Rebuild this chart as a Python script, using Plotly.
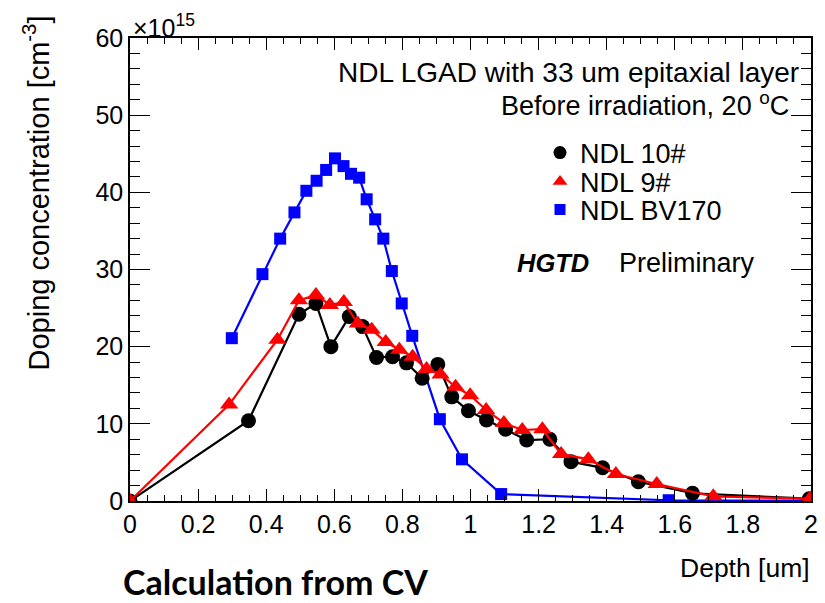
import plotly.graph_objects as go

# ---- data ----
ndl10_x = [0.0, 0.348, 0.496, 0.546, 0.590, 0.644, 0.683, 0.724, 0.771, 0.812, 0.858,
           0.904, 0.945, 0.994, 1.047, 1.103, 1.165, 1.233, 1.295, 1.388, 1.493, 1.652, 1.995]
ndl10_y = [0.0, 10.4, 24.2, 25.6, 20.0, 23.9, 22.6, 18.6, 18.7, 17.9, 15.9,
           17.7, 13.5, 11.7, 10.5, 9.3, 7.9, 8.0, 5.1, 4.3, 2.5, 1.0, 0.3]

ndl9_x = [0.0, 0.291, 0.433, 0.496, 0.546, 0.587, 0.628, 0.669, 0.710, 0.751, 0.791,
          0.830, 0.871, 0.912, 0.956, 0.999, 1.046, 1.098, 1.152, 1.211, 1.266,
          1.346, 1.427, 1.547, 1.713, 1.997]
ndl9_y = [0.0, 12.5, 20.9, 26.0, 26.7, 25.4, 25.8, 23.0, 22.2, 20.6, 19.6,
          18.7, 17.1, 16.4, 14.8, 13.7, 11.8, 10.1, 9.2, 9.3, 6.1,
          5.4, 3.5, 2.2, 0.6, 0.3]

bv170_x = [0.299, 0.389, 0.441, 0.483, 0.518, 0.548, 0.576, 0.602, 0.627, 0.649, 0.673,
           0.695, 0.720, 0.744, 0.769, 0.798, 0.829, 0.910, 0.975, 1.090, 1.582, 1.997]
bv170_y = [21.1, 29.4, 34.0, 37.4, 40.2, 41.5, 42.9, 44.4, 43.4, 42.4, 41.9,
           39.1, 36.5, 34.0, 29.8, 25.6, 21.4, 10.6, 5.4, 0.9, 0.1, 0.05]

series_names = ["NDL 10#", "NDL 9#", "NDL BV170"]
x_ticks = [0, 0.2, 0.4, 0.6, 0.8, 1, 1.2, 1.4, 1.6, 1.8, 2]
y_ticks = [0, 10, 20, 30, 40, 50, 60]

FONT = "Liberation Sans, Arial, Helvetica, sans-serif"

fig = go.Figure()

# data traces (lines + markers), no legend entries
fig.add_trace(go.Scatter(x=bv170_x, y=bv170_y, mode="lines+markers", showlegend=False,
                         line=dict(color="#0000ff", width=2.2),
                         marker=dict(symbol="square", size=12, color="#0000ff")))
fig.add_trace(go.Scatter(x=ndl10_x, y=ndl10_y, mode="lines+markers", showlegend=False,
                         line=dict(color="#000000", width=2.2),
                         marker=dict(symbol="circle", size=15, color="#000000")))
fig.add_trace(go.Scatter(x=ndl9_x, y=ndl9_y, mode="lines+markers", showlegend=False,
                         line=dict(color="#ff0000", width=2.2),
                         marker=dict(symbol="triangle-up", size=16, color="#ff0000")))

# legend entries (markers only), each in its own legend for exact placement
fig.add_trace(go.Scatter(x=[None], y=[None], mode="markers", name=series_names[0],
                         legend="legend",
                         marker=dict(symbol="circle", size=13, color="#000000")))
fig.add_trace(go.Scatter(x=[None], y=[None], mode="markers", name=series_names[1],
                         legend="legend2",
                         marker=dict(symbol="triangle-up", size=13, color="#ff0000")))
fig.add_trace(go.Scatter(x=[None], y=[None], mode="markers", name=series_names[2],
                         legend="legend3",
                         marker=dict(symbol="square", size=11, color="#0000ff")))

W, H = 825, 603
L, R, T, B = 130, 14, 38, 102
pw, ph = W - L - R, H - T - B


def px(xp):
    return (xp - L) / pw


def py(yp):
    return (H - B - yp) / ph


leg_common = dict(bgcolor="rgba(0,0,0,0)", borderwidth=0, xanchor="left", yanchor="middle",
                  font=dict(family=FONT, size=27, color="black"), itemclick=False,
                  itemdoubleclick=False)

axis_common = dict(showline=True, linecolor="black", linewidth=1.5, mirror="ticks",
                   ticks="inside", tickcolor="black", tickwidth=1.2, showgrid=False,
                   zeroline=False, automargin=False,
                   tickfont=dict(family=FONT, size=25, color="black"))

fig.update_layout(
    width=W, height=H,
    margin=dict(l=L, r=R, t=T, b=B),
    paper_bgcolor="white", plot_bgcolor="white",
    font=dict(family=FONT, color="black"),
    xaxis=dict(range=[0, 2], tickvals=x_ticks, ticklen=12,
               minor=dict(dtick=0.05, ticks="inside", ticklen=6, tickcolor="black", tickwidth=1),
               **axis_common),
    yaxis=dict(range=[0, 60], tickvals=y_ticks, ticklen=20,
               minor=dict(dtick=2, ticks="inside", ticklen=10, tickcolor="black", tickwidth=1),
               **axis_common),
    legend=dict(x=px(540), y=py(153), **leg_common),
    legend2=dict(x=px(540), y=py(182), **leg_common),
    legend3=dict(x=px(540), y=py(210), **leg_common),
)

ann = [
    dict(text="Doping concentration [cm<sup>-3</sup>]", x=px(37), y=py(14), xanchor="center",
         yanchor="top", textangle=-90, font=dict(size=29)),
    dict(text="×10<sup>15</sup>", x=px(131), y=py(44), xanchor="left", yanchor="bottom",
         font=dict(size=25)),
    dict(text="Depth [um]", x=px(812), y=py(568), xanchor="right", yanchor="middle",
         font=dict(size=26.5)),
    dict(text="NDL LGAD with 33 um epitaxial layer", x=px(801), y=py(72), xanchor="right",
         yanchor="middle", font=dict(size=28)),
    dict(text="Before irradiation, 20 <sup>o</sup>C", x=px(791), y=py(104), xanchor="right",
         yanchor="middle", font=dict(size=27)),
    dict(text="<b><i>HGTD</i></b>", x=px(515), y=py(263), xanchor="left", yanchor="middle",
         font=dict(size=25.5)),
    dict(text="Preliminary", x=px(617), y=py(263), xanchor="left", yanchor="middle",
         font=dict(size=27)),
    dict(text="<b>Calculation from CV</b>", x=px(121), y=py(581), xanchor="left",
         yanchor="middle", font=dict(family="Lato, Open Sans, sans-serif", size=34)),
]
for a in ann:
    a.setdefault("showarrow", False)
    a["xref"] = "paper"
    a["yref"] = "paper"
    f = a.get("font", {})
    f.setdefault("family", FONT)
    f.setdefault("color", "black")
    a["font"] = f
fig.update_layout(annotations=ann)

fig.write_html("out.html", config={"displayModeBar": False},
               post_script="document.body.style.margin='0';document.body.style.overflow='hidden';")
